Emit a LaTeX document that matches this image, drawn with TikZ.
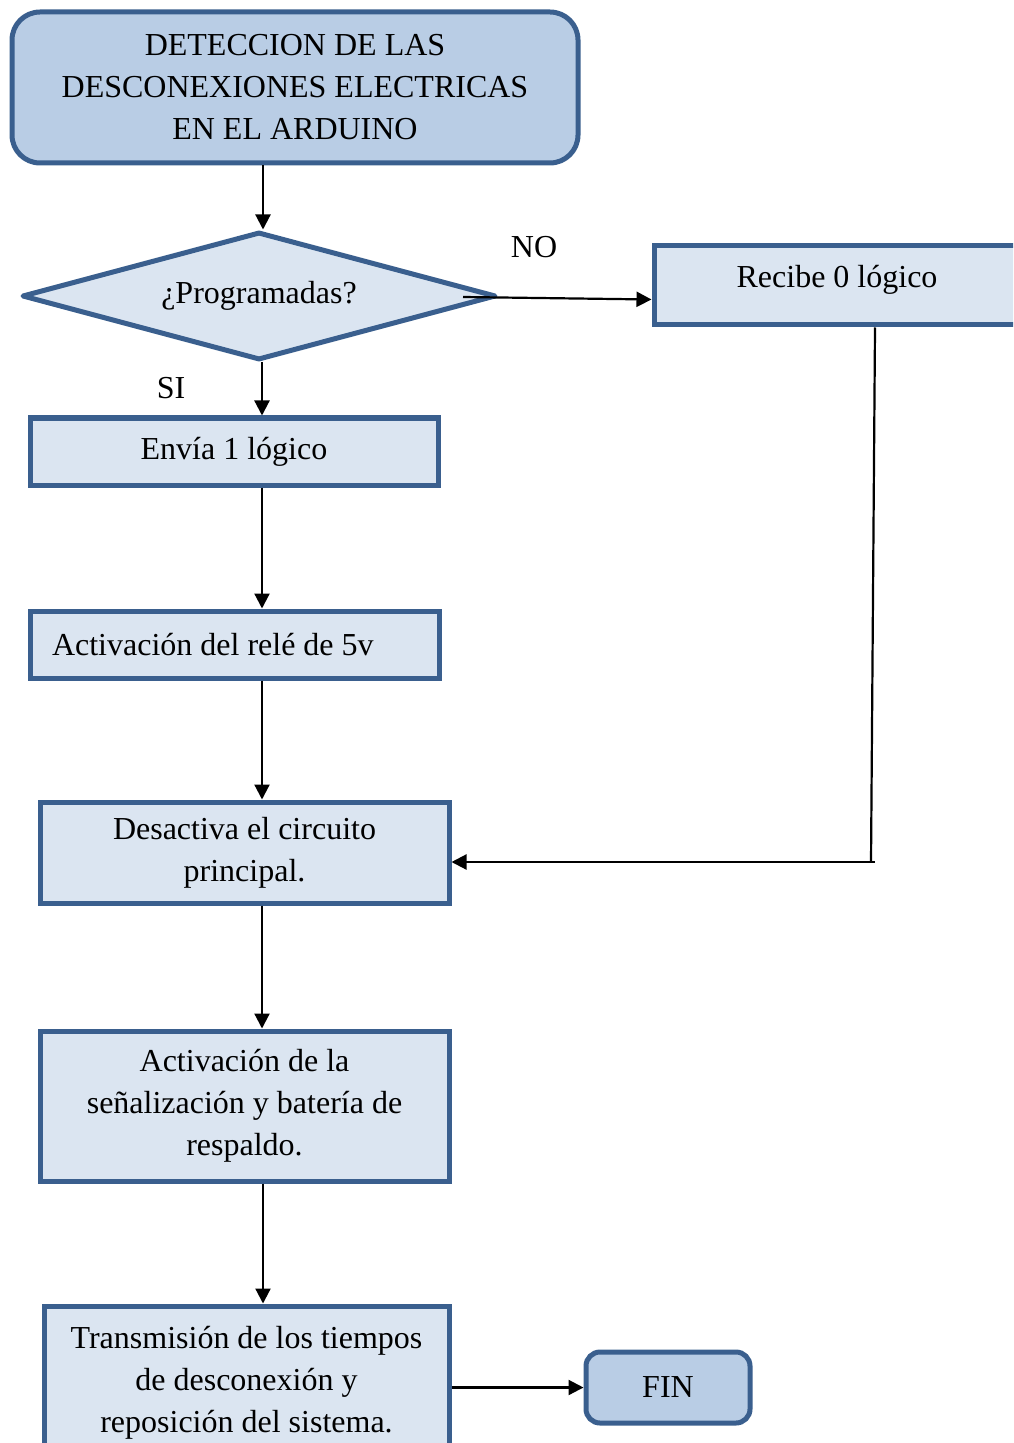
\documentclass[tikz,border=0pt]{standalone}
\usepackage{fontspec}
\setmainfont{Liberation Serif}
\usetikzlibrary{shapes.geometric,arrows.meta}

\definecolor{edgeblue}{HTML}{3A5F8E}
\definecolor{darkfill}{HTML}{B9CDE5}
\definecolor{lightfill}{HTML}{DBE5F1}

\tikzset{
  stepbox/.style={draw=edgeblue, fill=lightfill, line width=2.5pt, inner sep=0pt, outer sep=1.25pt, align=center},
  endbox/.style={stepbox, fill=darkfill, rounded corners=14pt},
  testbox/.style={stepbox, shape=diamond, aspect=3.7, line join=round},
  arr/.style={line width=1.1pt, -{Triangle[length=7.5pt,width=7.5pt]}},
  link/.style={line width=1.1pt}
}

\begin{document}
\begin{tikzpicture}[x=0.5pt, y=-0.5pt, font=\fontsize{16}{21}\selectfont]
    \useasboundingbox (0,0) rectangle (1013,1443);
    \clip (0,0) rectangle (1013,1443);

    % main column
    \node[endbox, minimum width=283pt, minimum height=75.5pt] (start) at (295,87.5)
        {DETECCION DE LAS\\DESCONEXIONES ELECTRICAS\\EN EL ARDUINO};
    \node[testbox, minimum width=237pt, minimum height=64pt] (prog) at (259,296) {¿Programadas?};
    \node[stepbox, minimum width=204pt, minimum height=33.5pt] (envia) at (234,451.5) {Envía 1 lógico};
    \node[stepbox, minimum height=33.5pt, text width=182.5pt, inner xsep=11pt, align=flush left] (rele) at (234.5,644.5)
        {Activación del relé de 5v};
    \node[stepbox, minimum width=204.5pt, minimum height=50.5pt] (desac) at (244.5,852.5)
        {Desactiva el circuito\\principal.};
    \node[stepbox, minimum width=204.5pt, minimum height=75pt] (senal) at (244.5,1106)
        {Activación de la\\señalización y batería de\\respaldo.};
    \node[stepbox, minimum width=202.5pt, minimum height=77pt] (trans) at (246.5,1383)
        {Transmisión de los tiempos\\de desconexión y\\reposición del sistema.};
    \node[endbox, rounded corners=7pt, minimum width=82pt, minimum height=35.5pt] (fin) at (668,1387.5) {FIN};

    % side branch
    \node[stepbox, minimum width=183pt, minimum height=39.5pt, text depth=9pt] (recibe) at (837,285.5)
        {Recibe 0 lógico};
    \node (no) at (534,247) {NO};
    \node (si) at (171,388) {SI};
    \coordinate (nostart) at (463,297);
    \coordinate (col) at (262,0);
    \coordinate (top) at (875,0);
    \coordinate (turn) at (871,862);

    % connectors
    \draw[arr] ([xshift=0.5pt]col |- start.south) -- ([xshift=0.5pt]col |- prog.north);
    \draw[arr] (nostart) -- ([yshift=-7pt]recibe.west);
    \draw[arr] (col |- prog.south) -- (col |- envia.north);
    \draw[arr] (col |- envia.south) -- (col |- rele.north);
    \draw[arr] (col |- rele.south) -- (col |- desac.north);
    \draw[arr] (col |- desac.south) -- (col |- senal.north);
    \draw[arr] ([xshift=0.5pt]col |- senal.south) -- ([xshift=0.5pt]col |- trans.north);
    \draw[link] (top |- recibe.south) -- (turn);
    \draw[arr] ([xshift=2pt]turn) -- (turn -| desac.east);
    \draw[arr] (trans.east |- fin.west) -- (fin.west);
\end{tikzpicture}
\end{document}
